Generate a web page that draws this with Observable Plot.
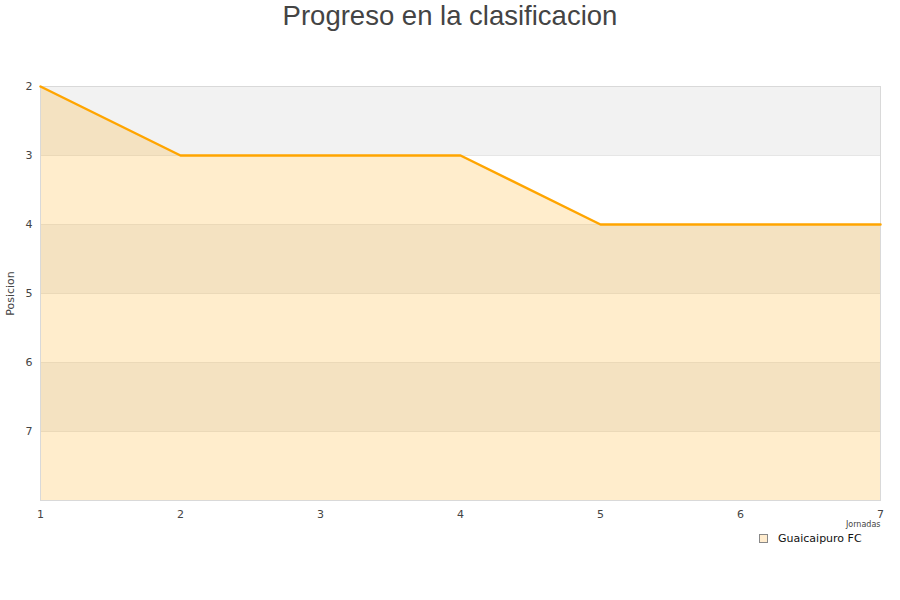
<!DOCTYPE html>
<html>
<head>
<meta charset="utf-8">
<script src="https://cdn.jsdelivr.net/npm/d3@7"></script>
<script src="https://cdn.jsdelivr.net/npm/@observablehq/plot@0.6"></script>
<style>
  html, body { margin: 0; padding: 0; background: #fff; }
  #wrap { position: relative; width: 900px; height: 600px; }
  #title { position: absolute; left: 0; top: 0; width: 900px; text-align: center;
           font-family: "Liberation Sans", Arial, sans-serif; font-size: 27.5px; color: #444; line-height: 32px; }
  #legend { position: absolute; left: 753px; top: 530px; background: #fff; padding: 2px 6px 3px 6px;
            font-family: "DejaVu Sans", sans-serif; font-size: 11px; color: #111; display: flex; align-items: center; }
  #legend .sw { width: 7px; height: 7px; background: #ffecce; border: 1px solid #888; margin-right: 10px; }
</style>
</head>
<body>
<div id="wrap">
  <div id="title">Progreso en la clasificacion</div>
  <div id="chart"></div>
  <div id="legend"><span class="sw"></span><span>Guaicaipuro FC</span></div>
</div>
<script>
const jornadas = [1, 2, 3, 4, 5, 6, 7];
const posiciones = [2, 3, 3, 3, 4, 4, 4];
const yTicks = [2, 3, 4, 5, 6, 7];
const bandas = [[2, 3], [4, 5], [6, 7]];
const equipo = "Guaicaipuro FC";
const xLabel = "Jornadas";

const data = jornadas.map((j, i) => ({jornada: j, posicion: posiciones[i], equipo}));
const bands = bandas.map(([a, b]) => ({a, b}));

const chart = Plot.plot({
  width: 900,
  height: 600,
  marginTop: 86,
  marginBottom: 100,
  marginLeft: 40,
  marginRight: 20,
  style: {fontFamily: "DejaVu Sans, sans-serif", fontSize: "11px", color: "#444", background: "#fff"},
  x: {domain: [1, 7]},
  y: {domain: [2, 8], reverse: true},
  marks: [
    Plot.rectY(bands, {x1: 1, x2: 7, y1: "a", y2: "b", fill: "#f2f2f2"}),
    Plot.ruleY(yTicks.slice(1), {stroke: "#e6e6e6", strokeWidth: 1}),
    Plot.areaY(data, {x: "jornada", y1: "posicion", y2: 8, fill: "#ffa500", fillOpacity: 0.2}),
    Plot.frame({stroke: "#d9d9d9"}),
    Plot.lineY(data, {x: "jornada", y: "posicion", stroke: "#ffa500", strokeWidth: 2.5}),
    Plot.axisY({ticks: yTicks, tickSize: 0, tickPadding: 8, tickFormat: d3.format("d"), label: "Posicion",
                labelAnchor: "center", labelArrow: "none", labelOffset: 34, fontSize: 11}),
    Plot.axisX({ticks: jornadas, tickSize: 0, tickPadding: 10, tickFormat: d3.format("d"), label: null}),
    Plot.text([xLabel], {frameAnchor: "bottom-right", text: d => d, dy: 26, textAnchor: "end",
                         fontSize: 8, fill: "#444"})
  ]
});
document.getElementById("chart").appendChild(chart);
</script>
</body>
</html>
